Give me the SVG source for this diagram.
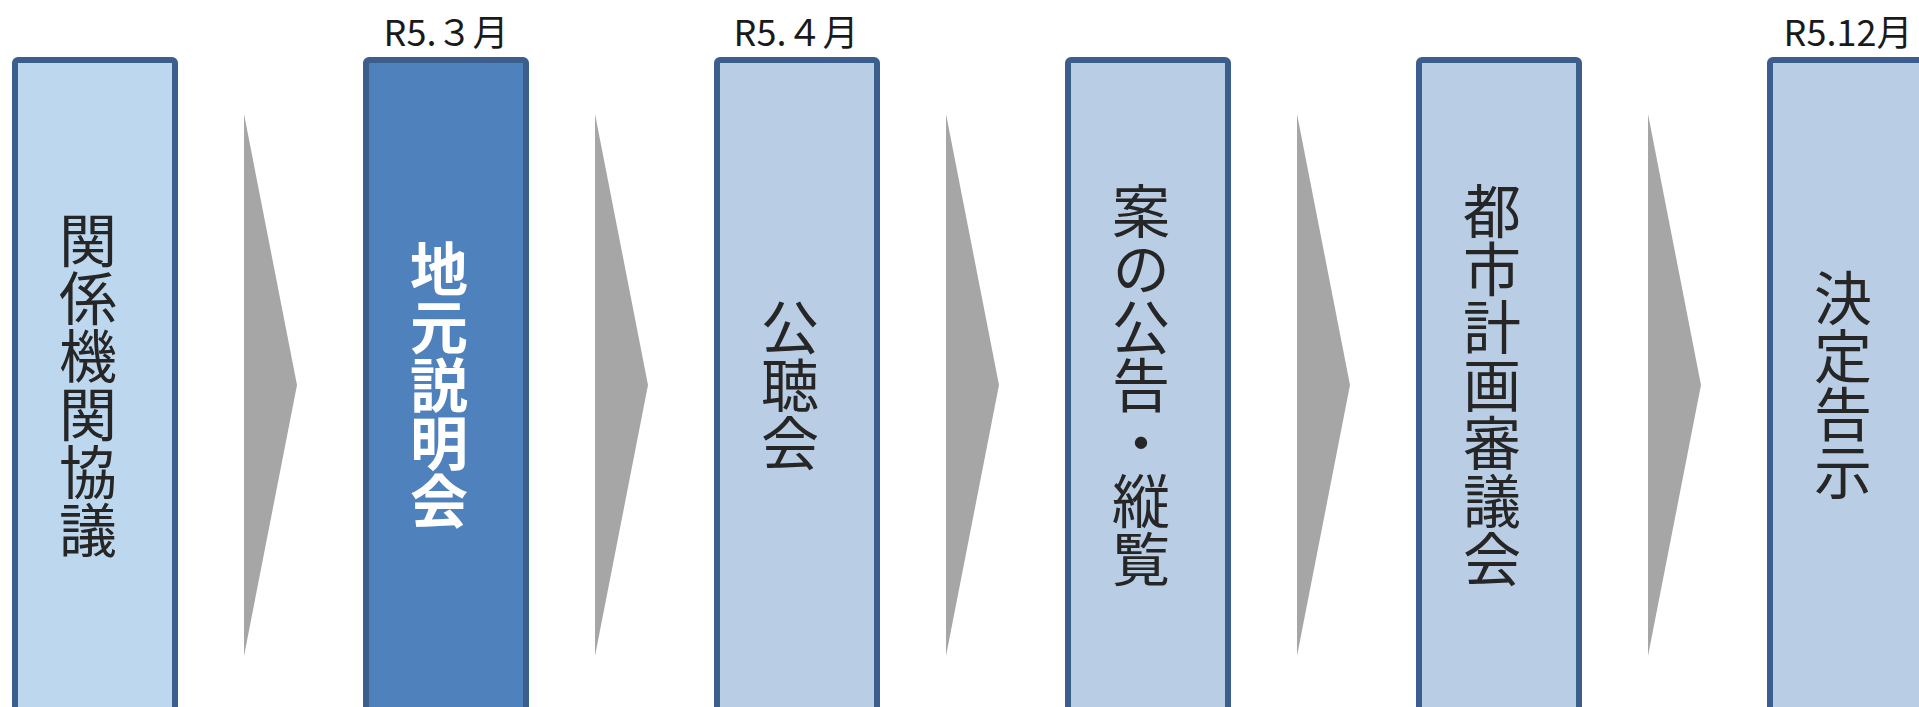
<svg xmlns="http://www.w3.org/2000/svg" width="1919" height="707" viewBox="0 0 1919 707">
<style>
.box{fill:#B9CDE5;stroke:#3B5E8C;stroke-width:6}
.box1{fill:#BDD7EE}
.box2{fill:#4F81BD}
.arrow{fill:#A6A6A6}
.date{font-family:"Noto Sans CJK JP","Noto Sans",sans-serif;font-size:36px;fill:#1a1a1a;text-anchor:middle}
.vt{font-family:"Noto Sans CJK JP",sans-serif;font-size:58px;fill:#262626;writing-mode:vertical-rl;text-anchor:middle}
.vtb{fill:#FFFFFF;font-weight:bold}
</style>
<rect width="1919" height="707" fill="#FFFFFF"/>
<g id="connectors">
<polygon class="arrow" points="244,114 297,385 244,656"/>
<polygon class="arrow" points="595,114 648,385 595,656"/>
<polygon class="arrow" points="946,114 999,385 946,656"/>
<polygon class="arrow" points="1297,114 1350,385 1297,656"/>
<polygon class="arrow" points="1648,114 1701,385 1648,656"/>
</g>
<g id="node1">
<rect class="box box1" x="15" y="60" width="160" height="670" rx="3"/>
<text class="vt" x="88" y="385">関係機関協議</text>
</g>
<g id="node2">
<rect class="box box2" x="366" y="60" width="160" height="670" rx="3"/>
<text class="vt vtb" x="439" y="385">地元説明会</text>
<text class="date" x="446" y="46">R5.３月</text>
</g>
<g id="node3">
<rect class="box" x="717" y="60" width="160" height="670" rx="3"/>
<text class="vt" x="790" y="385">公聴会</text>
<text class="date" x="796" y="46">R5.４月</text>
</g>
<g id="node4">
<rect class="box" x="1068" y="60" width="160" height="670" rx="3"/>
<text class="vt" x="1141" y="385">案の公告・縦覧</text>
</g>
<g id="node5">
<rect class="box" x="1419" y="60" width="160" height="670" rx="3"/>
<text class="vt" x="1492" y="385">都市計画審議会</text>
</g>
<g id="node6">
<rect class="box" x="1770" y="60" width="160" height="670" rx="3"/>
<text class="vt" x="1843" y="385">決定告示</text>
<text class="date" x="1848" y="46">R5.12月</text>
</g>
</svg>
